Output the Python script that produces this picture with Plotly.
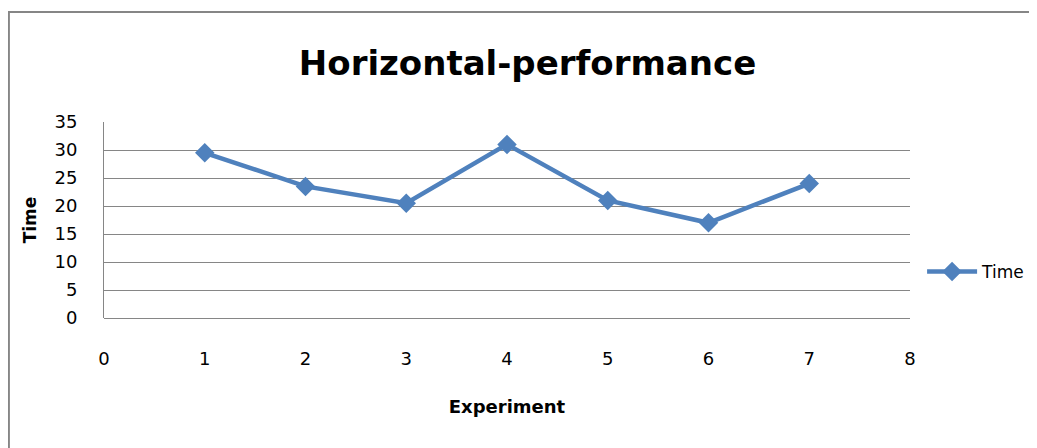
import plotly.graph_objects as go

experiment = [1, 2, 3, 4, 5, 6, 7]
time_vals = [29.5, 23.5, 20.5, 31, 21, 17, 24]
x_ticks = [0, 1, 2, 3, 4, 5, 6, 7, 8]
y_ticks = [0, 5, 10, 15, 20, 25, 30, 35]

BLUE = "#4f81bd"
GRID = "#868686"
FONT = "DejaVu Sans, sans-serif"

fig = go.Figure()

fig.add_trace(go.Scatter(
    x=experiment,
    y=time_vals,
    mode="lines+markers",
    name="Time",
    line=dict(color=BLUE, width=4.5),
    marker=dict(symbol="diamond", size=15, color=BLUE),
))

# outer chart border (Excel chart area)
fig.add_shape(type="rect", xref="paper", yref="paper",
              x0=-0.118, x1=1.3, y0=-0.8, y1=1.561,
              line=dict(color=GRID, width=2), fillcolor="rgba(0,0,0,0)", layer="below")

fig.update_layout(
    width=1037,
    height=448,
    title=dict(text="<b>Horizontal-performance</b>", x=0.501, xanchor="center",
               y=0.877, yanchor="middle",
               font=dict(family=FONT, size=34, color="black")),
    plot_bgcolor="white",
    paper_bgcolor="white",
    margin=dict(l=96, r=135, t=114, b=138),
    xaxis=dict(
        range=[0, 8], tickvals=x_ticks, showgrid=False, zeroline=False,
        showline=False, ticks="", ticklabelstandoff=28,
        tickfont=dict(family=FONT, size=18, color="black"),
        title=dict(text="<b>Experiment</b>", standoff=32,
                   font=dict(family=FONT, size=18, color="black")),
    ),
    yaxis=dict(
        range=[0, 35], tickvals=y_ticks, showgrid=True, gridcolor=GRID, gridwidth=1,
        zeroline=True, zerolinecolor=GRID, zerolinewidth=1,
        showline=True, linecolor=GRID, linewidth=1, ticks="", ticklabelstandoff=22,
        tickfont=dict(family=FONT, size=18, color="black"),
        title=dict(text="<b>Time</b>", standoff=13,
                   font=dict(family=FONT, size=17, color="black")),
    ),
    showlegend=True,
    legend=dict(x=1.015, y=0.235, xanchor="left", yanchor="middle",
                font=dict(family=FONT, size=17, color="black"),
                bgcolor="rgba(0,0,0,0)", itemwidth=50),
)

fig.write_html("out.html")
